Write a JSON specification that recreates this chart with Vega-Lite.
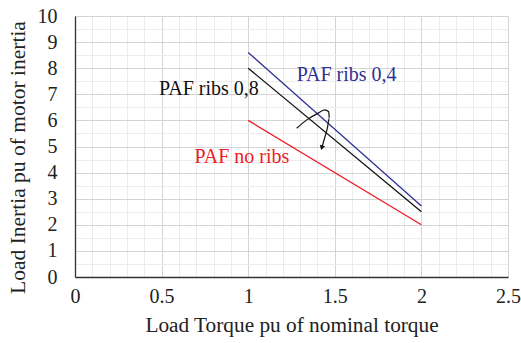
{
  "$schema": "https://vega.github.io/schema/vega-lite/v6.json",
  "width": 433,
  "height": 261,
  "autosize": "none",
  "padding": {"left": 75, "top": 16, "right": 13, "bottom": 66},
  "background": "white",
  "config": {
    "view": {"stroke": null},
    "font": "'Liberation Serif', 'Times New Roman', serif",
    "axis": {"labelFont": "'Liberation Serif', 'Times New Roman', serif", "titleFont": "'Liberation Serif', 'Times New Roman', serif", "titleFontWeight": "normal", "labelColor": "#222222", "titleColor": "#222222"}
  },
  "datasets": {
    "lines": [
      {"series": "PAF ribs 0,4", "torque": 1, "inertia": 8.6},
      {"series": "PAF ribs 0,4", "torque": 2, "inertia": 2.72},
      {"series": "PAF ribs 0,8", "torque": 1, "inertia": 8.0},
      {"series": "PAF ribs 0,8", "torque": 2, "inertia": 2.5},
      {"series": "PAF no ribs", "torque": 1, "inertia": 6.0},
      {"series": "PAF no ribs", "torque": 2, "inertia": 2.0}
    ],
    "arrow": [
      {"order": 1, "torque": 1.28, "inertia": 5.7},
      {"order": 2, "torque": 1.338, "inertia": 6.02},
      {"order": 3, "torque": 1.396, "inertia": 6.25},
      {"order": 4, "torque": 1.443, "inertia": 6.4},
      {"order": 5, "torque": 1.465, "inertia": 6.33},
      {"order": 6, "torque": 1.468, "inertia": 6.08},
      {"order": 7, "torque": 1.457, "inertia": 5.7},
      {"order": 8, "torque": 1.438, "inertia": 5.25},
      {"order": 9, "torque": 1.425, "inertia": 4.95}
    ],
    "labels": [
      {"series": "PAF ribs 0,4", "torque": 1.28, "inertia": 7.75, "text": "PAF ribs 0,4"},
      {"series": "PAF ribs 0,8", "torque": 0.485, "inertia": 7.2, "text": "PAF ribs 0,8"},
      {"series": "PAF no ribs", "torque": 0.69, "inertia": 4.6, "text": "PAF no ribs"}
    ]
  },
  "encoding": {
    "x": {
      "field": "torque", "type": "quantitative",
      "scale": {"domain": [0, 2.5], "nice": false, "zero": true},
      "axis": {
        "title": "Load Torque pu of nominal torque",
        "titleFontSize": 21.3, "labelFontSize": 20,
        "values": [0,0.1,0.2,0.3,0.4,0.5,0.6,0.7,0.8,0.9,1,1.1,1.2,1.3,1.4,1.5,1.6,1.7,1.8,1.9,2,2.1,2.2,2.3,2.4,2.5],
        "labelExpr": "abs(datum.value*2 - round(datum.value*2)) < 0.001 ? format(datum.value, '~g') : ''",
        "gridColor": {"condition": {"test": "abs(datum.value*2 - round(datum.value*2)) < 0.001", "value": "#d4d4d4"}, "value": "#ececec"},
        "gridWidth": 1,
        "ticks": false,
        "domainColor": "#333333",
        "domainWidth": 1.3,
        "labelPadding": 9,
        "titlePadding": 8,
        "labelOverlap": false,
        "labelFlush": false
      }
    },
    "y": {
      "field": "inertia", "type": "quantitative",
      "scale": {"domain": [0, 10], "nice": false},
      "axis": {
        "title": "Load Inertia pu of motor inertia",
        "titleFontSize": 21.5, "labelFontSize": 20,
        "titleY": 141,
        "values": [0,0.5,1,1.5,2,2.5,3,3.5,4,4.5,5,5.5,6,6.5,7,7.5,8,8.5,9,9.5,10],
        "labelExpr": "datum.value % 1 === 0 ? format(datum.value, 'd') : ''",
        "gridColor": {"condition": {"test": "datum.value % 1 === 0", "value": "#d4d4d4"}, "value": "#ececec"},
        "ticks": false,
        "domainColor": "#333333",
        "domainWidth": 1.3,
        "labelPadding": 18,
        "titlePadding": 8,
        "labelOverlap": false,
        "labelFlush": false
      }
    }
  },
  "layer": [
    {
      "data": {"name": "lines"},
      "mark": {"type": "line", "strokeWidth": 1.3},
      "encoding": {
        "color": {
          "field": "series", "type": "nominal",
          "scale": {"domain": ["PAF ribs 0,4", "PAF ribs 0,8", "PAF no ribs"], "range": ["#2e3192", "#111111", "#ed1c24"]},
          "legend": null
        }
      }
    },
    {
      "data": {"name": "arrow"},
      "mark": {"type": "line", "color": "#111111", "strokeWidth": 1.2, "interpolate": "monotone"},
      "encoding": {
        "order": {"field": "order", "type": "quantitative"}
      }
    },
    {
      "data": {"name": "arrow"},
      "transform": [{"filter": "datum.order === 9"}],
      "mark": {"type": "point", "shape": "triangle-down", "filled": true, "color": "#111111", "size": 30, "opacity": 1, "angle": 15},
      "encoding": {}
    },
    {
      "data": {"name": "labels"},
      "mark": {"type": "text", "align": "left", "baseline": "middle", "fontSize": 20, "font": "'Liberation Serif', 'Times New Roman', serif"},
      "encoding": {
        "text": {"field": "text"},
        "color": {"field": "series", "type": "nominal"}
      }
    }
  ]
}
